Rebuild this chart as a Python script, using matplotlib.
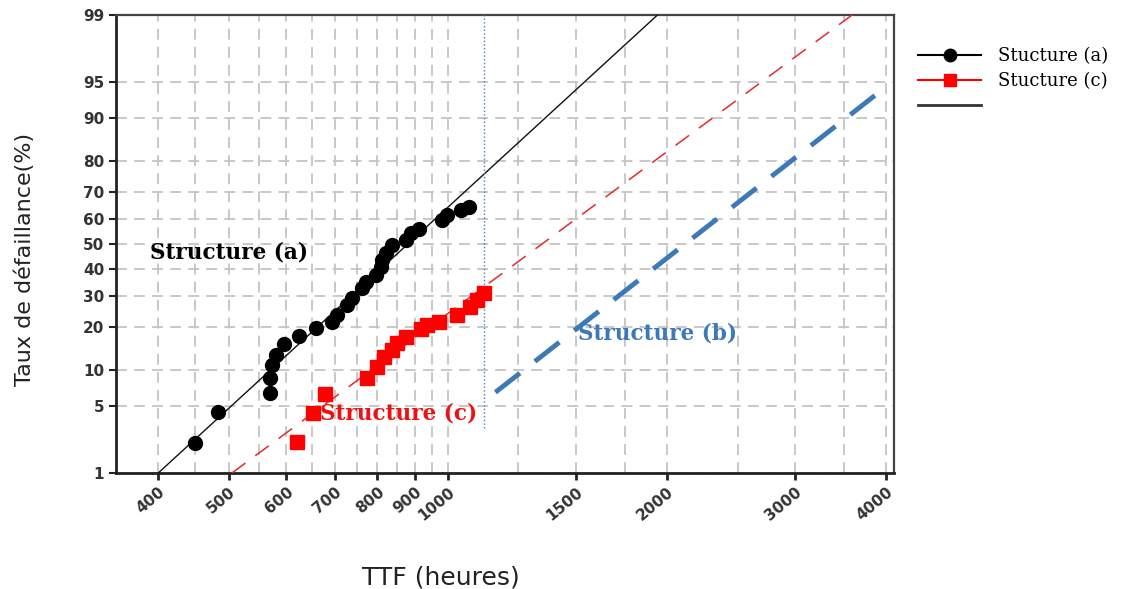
import math
import numpy as np
import matplotlib
matplotlib.use("Agg")
import matplotlib.pyplot as plt
from matplotlib.lines import Line2D

# TTF (heures) / taux de défaillance (%)
ttf_a = [450, 483, 569, 569, 574, 580, 596, 624, 658, 693, 705, 727, 739,
         763, 771, 796, 808, 812, 821, 839, 875, 889, 912, 982, 998, 1041, 1068]
pct_a = [2.15, 4.4, 6.5, 8.6, 11.0, 13.0, 15.5, 17.5, 19.6, 21.5, 23.6, 26.8, 29.1,
         32.7, 35.1, 37.7, 40.9, 43.6, 46.3, 49.6, 51.7, 54.4, 56.0, 59.7, 61.6, 63.6, 64.8]

ttf_c = [621, 653, 677, 775, 798, 817, 839, 852, 875, 917, 937, 972, 1030, 1074, 1097, 1120]
pct_c = [2.2, 4.3, 6.4, 8.6, 10.6, 12.5, 14.1, 15.8, 17.3, 19.3, 20.6, 21.5, 23.6, 26.2, 28.5, 30.9]

# droites d'ajustement lognormales (droites sur papier probit)
fit_a_ttf = [400, 1940]
fit_a_pct = [1, 99]
fit_c_ttf = [505, 3590]
fit_c_pct = [1, 99]
fit_b_ttf = [1162, 3867]
fit_b_pct = [6.6, 93.5]

limit_ttf = 1120
limit_pct = [3.1, 99]

x_ticks = [400, 500, 600, 700, 800, 900, 1000, 1500, 2000, 3000, 4000]
x_minor = [450, 550, 650, 750, 850, 950, 1250, 1750, 2500, 3500]
y_ticks = [1, 5, 10, 20, 30, 40, 50, 60, 70, 80, 90, 95, 99]


def _ppf(p):
    # inverse de la loi normale (approximation d'Acklam)
    a = [-3.969683028665376e+01, 2.209460984245205e+02, -2.759285104469687e+02,
         1.383577518672690e+02, -3.066479806614716e+01, 2.506628277459239e+00]
    b = [-5.447609879822406e+01, 1.615858368580409e+02, -1.556989798598866e+02,
         6.680131188771972e+01, -1.328068155288572e+01]
    c = [-7.784894002430293e-03, -3.223964580411365e-01, -2.400758277161838e+00,
         -2.549732539343734e+00, 4.374664141464968e+00, 2.938163982698783e+00]
    d = [7.784695709041462e-03, 3.224671290700398e-01, 2.445134137142996e+00,
         3.754408661907416e+00]
    p = np.clip(np.asarray(p, dtype=float), 1e-12, 1 - 1e-12)
    out = np.empty_like(p)
    lo = p < 0.02425
    hi = p > 1 - 0.02425
    mid = ~(lo | hi)
    q = np.sqrt(-2 * np.log(p[lo]))
    out[lo] = (((((c[0]*q+c[1])*q+c[2])*q+c[3])*q+c[4])*q+c[5]) / \
              ((((d[0]*q+d[1])*q+d[2])*q+d[3])*q+1)
    q = np.sqrt(-2 * np.log(1 - p[hi]))
    out[hi] = -(((((c[0]*q+c[1])*q+c[2])*q+c[3])*q+c[4])*q+c[5]) / \
               ((((d[0]*q+d[1])*q+d[2])*q+d[3])*q+1)
    q = p[mid] - 0.5
    r = q * q
    out[mid] = (((((a[0]*r+a[1])*r+a[2])*r+a[3])*r+a[4])*r+a[5])*q / \
               (((((b[0]*r+b[1])*r+b[2])*r+b[3])*r+b[4])*r+1)
    return out


_erfc = np.vectorize(math.erfc)


def fwd(v):
    return _ppf(np.asarray(v, dtype=float) / 100.0)


def inv(z):
    return 50.0 * _erfc(-np.asarray(z, dtype=float) / math.sqrt(2))


fig = plt.figure(figsize=(11.35, 5.89), dpi=100)
ax = fig.add_axes([0.1022, 0.1969, 0.6855, 0.7776])

ax.set_xscale("log")
ax.set_yscale("function", functions=(fwd, inv))
ax.set_xlim(350, 4100)
ax.set_ylim(1, 99)

ax.set_xticks(x_ticks)
ax.set_xticklabels([str(t) for t in x_ticks])
ax.set_xticks(x_minor, minor=True)
ax.set_xticklabels([], minor=True)
ax.set_yticks(y_ticks)
ax.set_yticklabels([str(t) for t in y_ticks])
ax.set_yticks([], minor=True)

ax.grid(True, which="both", color="#c4c4c4", linestyle=(0, (6, 4)), linewidth=1.3)
ax.set_axisbelow(True)

ax.tick_params(axis="x", which="major", length=5, width=2, color="#222222",
               labelsize=11, labelcolor="#333333", pad=3)
ax.tick_params(axis="x", which="minor", length=0)
ax.tick_params(axis="y", length=5, width=1.5, color="#222222",
               labelsize=11, labelcolor="#333333")
for lab in ax.get_xticklabels():
    lab.set_rotation(40)
    lab.set_ha("right")
    lab.set_rotation_mode("anchor")
    lab.set_fontweight("bold")
for lab in ax.get_yticklabels():
    lab.set_fontweight("bold")

for side in ["left", "bottom"]:
    ax.spines[side].set_linewidth(2)
    ax.spines[side].set_color("#222222")
for side in ["top", "right"]:
    ax.spines[side].set_linewidth(1.6)
    ax.spines[side].set_color("#444444")

ax.plot(fit_a_ttf, fit_a_pct, color="#111111", lw=1.0, zorder=3)
ax.plot(fit_c_ttf, fit_c_pct, color="#e8282a", lw=1.1, dashes=(11, 8), zorder=3)
ax.plot(fit_b_ttf, fit_b_pct, color="#3d78b8", lw=3.5, dashes=(6.4, 3.9), zorder=3)
ax.plot([limit_ttf, limit_ttf], limit_pct, color="#4a7fc0", lw=1, ls=":", zorder=3)

ax.plot(ttf_a, pct_a, "o", color="black", ms=10, zorder=4)
ax.plot(ttf_c, pct_c, "s", color="#ff0000", ms=10, zorder=4)

ax.text(390, 46.4, "Structure (a)", color="black", fontsize=15.5, fontweight="bold",
        family="DejaVu Serif", ha="left", va="center", zorder=5)
ax.text(668, 4.3, "Structure (c)", color="#ee1111", fontsize=15.5, fontweight="bold",
        family="DejaVu Serif", ha="left", va="center", zorder=5)
ax.text(1507, 18.3, "Structure (b)", color="#3d78b8", fontsize=15.5, fontweight="bold",
        family="DejaVu Serif", ha="left", va="center", zorder=5)

handles = [Line2D([], [], color="black", lw=1.5, marker="o", ms=9),
           Line2D([], [], color="#ff0000", lw=1.5, marker="s", ms=9),
           Line2D([], [], color="#333333", lw=2)]
fig.legend(handles, ["Stucture (a)", "Stucture (c)", " "],
           loc="upper left", bbox_to_anchor=(0.809, 0.92), frameon=False,
           prop={"family": "DejaVu Serif", "size": 13}, handlelength=3.5,
           handletextpad=0.9, labelspacing=0.4, borderpad=0, borderaxespad=0)

fig.text(0.022, 0.56, "Taux de défaillance(%)", rotation=90, fontsize=16,
         ha="center", va="center", color="#222222")
fig.text(0.388, 0.02, "TTF (heures)", fontsize=18, ha="center", va="center",
         color="#222222")

fig.savefig("out.png", dpi=100)
